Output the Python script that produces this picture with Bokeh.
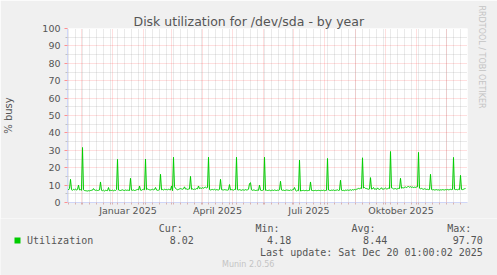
import math
import pandas as pd
from bokeh.plotting import figure
from bokeh.layouts import column
from bokeh.models import Range1d, FixedTicker, Label, Title
from bokeh.embed import file_html
from bokeh.resources import INLINE

# ---------------- data ----------------
title_text = "Disk utilization for /dev/sda - by year"
y_label = "% busy"
first_day = "2024-11-17"
range_start = "2024-11-17"
range_days = 400

utilization = [
    7.9, 7.2, 8.1, 13.3, 7.4, 7.0, 7.6, 7.3, 7.8, 7.1, 7.5, 10.0, 7.2, 7.4, 7.0, 31.6, 7.3, 6.9, 6.8, 6.7,
    6.6, 6.8, 6.7, 6.9, 7.0, 7.1, 8.0, 7.2, 7.0, 7.1, 6.9, 7.0, 7.2, 11.8, 7.0, 6.8, 7.1, 6.6, 7.0, 6.9,
    6.8, 8.6, 6.7, 7.0, 6.9, 7.1, 6.6, 7.2, 6.9, 7.4, 24.8, 7.2, 7.0, 6.9, 7.1, 7.3, 7.0, 6.9, 7.2, 7.0,
    7.1, 7.0, 6.9, 13.9, 7.1, 7.0, 7.2, 6.9, 7.0, 7.3, 7.5, 7.2, 9.5, 7.1, 7.0, 7.4, 7.6, 7.3, 25.0, 7.4,
    7.8, 7.5, 7.3, 7.2, 7.4, 7.6, 7.3, 7.5, 8.6, 7.2, 7.0, 7.1, 7.4, 16.2, 7.3, 7.5, 7.2, 7.6, 7.4, 7.5,
    7.3, 7.6, 7.4, 7.2, 9.5, 6.8, 26.0, 9.0, 8.2, 7.6, 7.3, 7.5, 7.8, 8.0, 7.8, 7.6, 7.9, 9.0, 7.7, 7.8,
    7.5, 7.7, 7.8, 15.0, 7.6, 7.8, 7.5, 7.7, 7.6, 8.0, 7.8, 9.5, 8.0, 8.3, 8.1, 8.5, 8.2, 8.6, 8.8, 8.4,
    8.6, 26.0, 7.4, 7.2, 7.4, 7.5, 7.3, 7.6, 7.2, 7.4, 7.3, 7.2, 7.5, 13.3, 7.4, 7.3, 7.2, 7.4, 7.3, 7.2,
    7.1, 7.3, 10.3, 7.2, 7.4, 7.3, 7.1, 7.5, 7.4, 26.0, 7.3, 7.2, 7.4, 7.2, 7.0, 7.3, 7.2, 7.1, 7.4, 7.2,
    7.3, 7.6, 10.9, 11.4, 7.3, 7.0, 7.2, 7.1, 6.9, 7.0, 7.1, 7.0, 10.0, 7.1, 6.9, 7.0, 7.2, 26.0, 7.0, 7.1,
    6.9, 7.0, 7.1, 6.8, 7.0, 7.1, 6.9, 7.2, 7.0, 6.9, 7.1, 7.0, 7.3, 12.2, 7.2, 7.0, 7.1, 6.9, 7.0, 7.2,
    7.1, 7.0, 6.9, 7.2, 7.0, 7.3, 7.4, 8.6, 7.1, 6.5, 7.0, 6.8, 24.4, 6.6, 6.8, 6.9, 7.0, 6.8, 6.9, 7.0,
    6.8, 6.9, 7.0, 11.8, 7.0, 6.9, 6.8, 6.9, 7.0, 6.8, 6.9, 7.0, 6.9, 6.8, 7.0, 6.9, 7.1, 6.8, 6.9, 7.0,
    25.3, 7.2, 7.0, 6.9, 7.1, 7.0, 7.2, 6.9, 7.0, 7.1, 7.3, 6.9, 7.1, 12.8, 7.1, 6.9, 7.0, 6.8, 7.1, 7.0,
    7.2, 7.0, 7.1, 7.3, 7.0, 7.4, 7.2, 7.5, 7.3, 7.6, 7.8, 8.1, 7.9, 8.2, 8.0, 25.7, 8.3, 8.6, 8.1, 8.0,
    7.8, 7.6, 7.8, 14.3, 7.7, 7.9, 8.6, 7.6, 7.8, 7.5, 8.4, 7.7, 7.5, 7.8, 8.5, 7.6, 7.7, 7.9, 8.3, 7.8,
    7.9, 8.2, 8.0, 29.3, 8.4, 8.2, 7.8, 7.9, 8.0, 7.7, 7.9, 8.1, 8.0, 13.9, 8.2, 8.5, 8.4, 8.7, 8.9, 8.6,
    9.0, 9.2, 8.8, 9.1, 8.7, 8.9, 8.6, 8.8, 8.7, 8.9, 9.0, 28.8, 8.2, 7.9, 8.1, 7.8, 7.6, 7.9, 7.7, 7.5,
    7.6, 7.4, 7.5, 16.2, 7.5, 7.3, 7.4, 7.2, 7.3, 7.4, 7.2, 7.3, 7.1, 7.3, 7.2, 7.4, 7.3, 7.2, 7.4, 7.3,
    7.5, 7.3, 7.4, 7.6, 7.4, 7.5, 25.9, 7.6, 7.4, 7.5, 7.3, 7.6, 7.4, 15.6, 7.5, 7.4, 7.6, 7.9, 8.02,
]

month_starts = ["2024-12-01", "2025-01-01", "2025-02-01", "2025-03-01", "2025-04-01",
                "2025-05-01", "2025-06-01", "2025-07-01", "2025-08-01", "2025-09-01",
                "2025-10-01", "2025-11-01", "2025-12-01"]
label_months = ["2025-01-01", "2025-04-01", "2025-07-01", "2025-10-01"]
x_tick_labels = ["Januar 2025", "April 2025", "Juli 2025", "Oktober 2025"]
y_ticks = [0, 10, 20, 30, 40, 50, 60, 70, 80, 90, 100]
y_minor_ticks = [5, 15, 25, 35, 45, 55, 65, 75, 85, 95]

legend_name = "Utilization"
stat_names = ["Cur:", "Min:", "Avg:", "Max:"]
stat_values = ["8.02", "4.18", "8.44", "97.70"]
last_update = "Last update: Sat Dec 20 01:00:02 2025"
munin_text = "Munin 2.0.56"
rrd_text = "RRDTOOL / TOBI OETIKER"

# ---------------- helpers ----------------
def ms(ts):
    return int(pd.Timestamp(ts).value // 10**6)

DAY = 86400000
x_start = ms(range_start)
x_end = x_start + range_days * DAY
dates = pd.date_range(first_day, periods=len(utilization), freq="D")
xs = [ms(d) for d in dates]

mid_ticks = []
for m in label_months:
    a = pd.Timestamp(m)
    b = a + pd.offsets.MonthBegin(1)
    mid_ticks.append((ms(a) + ms(b)) // 2)
month_ticks = [ms(m) for m in month_starts]
week_ticks = [ms(d) for d in pd.date_range(range_start, periods=60, freq="W-MON") if ms(d) < x_end]

FONT = "DejaVu Sans"
MONO = "DejaVu Sans Mono"
TXT = "#555555"
LIGHT = "#C4C4C4"
AXIS = "#CFD6F8"
BG = "#F0F0F0"

W = 497
H_MAIN = 218
H_LEG = 275 - H_MAIN
L, R, T, B = 67, 30, 28, 15

# ---------------- main plot ----------------
p = figure(width=W, height=H_MAIN, output_backend="svg", toolbar_location=None,
           x_range=Range1d(x_start, x_end), y_range=Range1d(0, 100),
           min_border_left=L, min_border_right=R, min_border_top=T, min_border_bottom=B,
           title=title_text)
p.background_fill_color = "#FFFFFF"
p.border_fill_color = BG
p.outline_line_color = None

p.title.align = "left"
p.title.offset = 66
p.title.standoff = 0
p.title.text_font = FONT
p.title.text_font_size = "12.5px"
p.title.text_font_style = "normal"
p.title.text_color = TXT

# grids
p.xgrid.ticker = FixedTicker(ticks=month_ticks, minor_ticks=week_ticks)
p.ygrid.ticker = FixedTicker(ticks=y_ticks, minor_ticks=y_minor_ticks)
for g in (p.xgrid, p.ygrid):
    g.grid_line_color = "#FF0000"
    g.grid_line_alpha = 0.25
    g.grid_line_dash = "1 1"
    g.minor_grid_line_color = "#A0A0A0"
    g.minor_grid_line_alpha = 0.45
    g.minor_grid_line_dash = "1 1"

# y axis
p.yaxis.ticker = FixedTicker(ticks=y_ticks, minor_ticks=y_minor_ticks)
p.yaxis.axis_line_color = AXIS
p.yaxis.major_tick_line_color = "#FF9090"
p.yaxis.major_tick_out = 3
p.yaxis.major_tick_in = 0
p.yaxis.minor_tick_line_color = "#C0C0C0"
p.yaxis.minor_tick_out = 2
p.yaxis.minor_tick_in = 0
p.yaxis.major_label_standoff = 4
p.yaxis.major_label_text_font = FONT
p.yaxis.major_label_text_font_size = "9.5px"
p.yaxis.major_label_text_color = TXT
p.yaxis.axis_label = y_label
p.yaxis.axis_label_standoff = 25
p.yaxis.axis_label_text_font = FONT
p.yaxis.axis_label_text_font_size = "10px"
p.yaxis.axis_label_text_font_style = "normal"
p.yaxis.axis_label_text_color = TXT

# x axis: labels centred in their month, small ticks at weeks / month starts
p.xaxis.ticker = FixedTicker(ticks=mid_ticks, minor_ticks=sorted(set(week_ticks + month_ticks)))
p.xaxis.major_label_overrides = {t: lab for t, lab in zip(mid_ticks, x_tick_labels)}
p.xaxis.axis_line_color = AXIS
p.xaxis.major_tick_line_color = None
p.xaxis.major_tick_out = 0
p.xaxis.major_tick_in = 0
p.xaxis.minor_tick_line_color = "#D8B0B0"
p.xaxis.minor_tick_out = 2
p.xaxis.minor_tick_in = 0
p.xaxis.major_label_standoff = 0
p.xaxis.major_label_text_font = FONT
p.xaxis.major_label_text_font_size = "9.5px"
p.xaxis.major_label_text_color = TXT

# right-side credit
p.add_layout(Title(text=rrd_text, align="left", offset=-23, standoff=18,
                   text_font=FONT, text_font_size="8px", text_font_style="normal",
                   text_color=LIGHT), "right")

# data line
p.line(xs, utilization, line_color="#00CC00", line_width=1)

# ---------------- legend strip ----------------
lf = figure(width=W, height=H_LEG, output_backend="svg", toolbar_location=None,
            x_range=Range1d(0, W), y_range=Range1d(H_LEG, 0),
            min_border_left=0, min_border_right=0, min_border_top=0, min_border_bottom=0,
            x_axis_location=None, y_axis_location=None)
lf.grid.visible = False
lf.outline_line_color = None
lf.background_fill_color = BG
lf.border_fill_color = BG
for fig in (p, lf):
    try:
        fig.frame_align = False
    except Exception:
        pass

def lab(text, X, Y, size, font=MONO, color=TXT, align="left"):
    lf.add_layout(Label(x=X, y=Y - H_MAIN, text=text, text_font=font, text_font_size=size,
                        text_color=color, text_align=align, text_baseline="middle"))

lf.quad(left=[14], right=[20], top=[237 - H_MAIN], bottom=[243 - H_MAIN],
        fill_color="#00CC00", line_color=None)
lab(legend_name, 26.5, 239.5, "10px")
stat_left = [158.3, 255, 351, 446.7]
stat_right = [193.3, 290.7, 386.7, 482.3]
for name, val, xl, xr in zip(stat_names, stat_values, stat_left, stat_right):
    lab(name, xl, 228, "10px")
    lab(val, xr, 239.5, "10px", align="right")
lab(last_update, 482.3, 251.5, "10px", align="right")
lab(munin_text, 247.7, 264, "8px", font=FONT, color=LIGHT, align="center")

layout = column(p, lf, spacing=0)
open("out.html", "w").write(file_html(layout, INLINE))
